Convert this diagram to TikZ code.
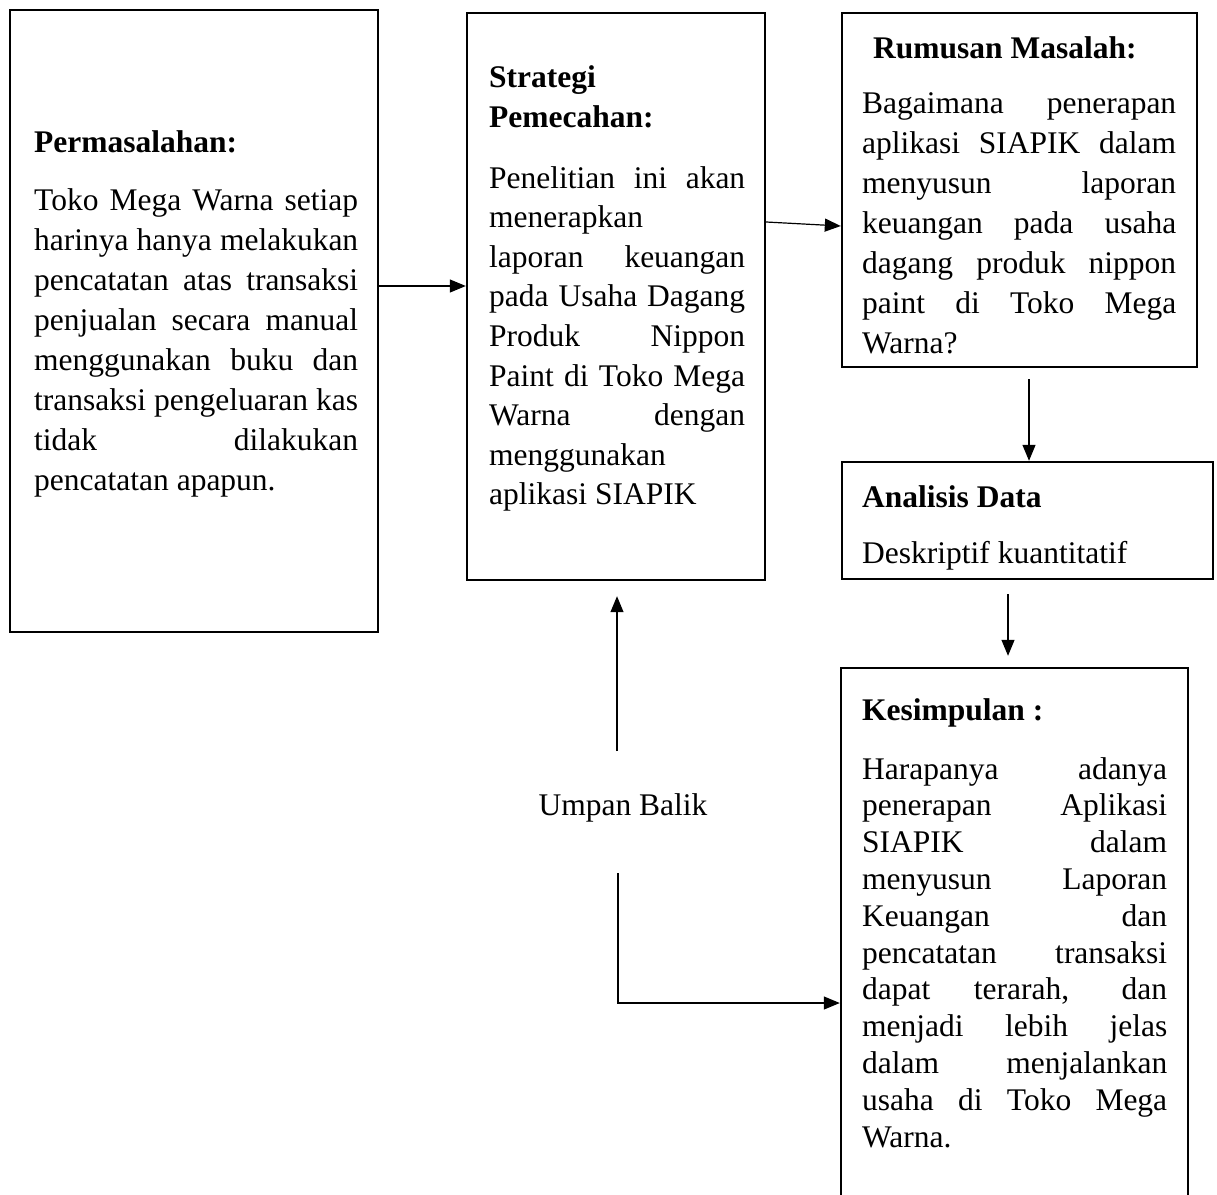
\documentclass[tikz,border=0pt]{standalone}
\usepackage{fontspec}
\setmainfont{Liberation Serif}
\usetikzlibrary{arrows.meta}
\newcommand\jline[1]{\makebox[\linewidth][s]{#1}\par}
\newcommand\lline[1]{\makebox[\linewidth][l]{#1}\par}
\begin{document}
\begin{tikzpicture}[x=1pt,y=-1pt,
  frame/.style={draw, line width=2.4pt, inner sep=0pt},
  txt/.style={anchor=base west, inner sep=0pt, font=\fontsize{31.5}{40}\selectfont},
  arr/.style={line width=1.2pt, -{Triangle[length=16pt,width=13pt]}}]
\useasboundingbox (0,0) rectangle (1217,1194);
% boxes
\node[frame, minimum width=368pt, minimum height=622pt] (b1) at (194,321) {};
\node[frame, minimum width=298pt, minimum height=567pt] (b2) at (616,296.5) {};
\node[frame, minimum width=355pt, minimum height=354pt] (b3) at (1019.5,190) {};
\node[frame, minimum width=371pt, minimum height=117pt] (b4) at (1027.5,520.5) {};
\node[frame, minimum width=347pt, minimum height=542pt] (b5) at (1014.5,939) {};
% box 1
\node[txt] (h1) at (34,152) {\bfseries Permasalahan:};
\node[txt] (t1) at (34,210) {\parbox[t]{324pt}{\fontsize{31.5}{40}\selectfont
\jline{Toko Mega Warna setiap}
\jline{harinya hanya melakukan}
\jline{pencatatan atas transaksi}
\jline{penjualan secara manual}
\jline{menggunakan buku dan}
\jline{transaksi pengeluaran kas}
\jline{tidak dilakukan}
\lline{pencatatan apapun.}}};
% box 2
\node[txt] (h2) at (489,87) {\parbox[t]{256pt}{\fontsize{31.5}{40}\selectfont\bfseries
\lline{Strategi}
\lline{Pemecahan:}}};
\node[txt] (t2) at (489,188) {\parbox[t]{256pt}{\fontsize{31.5}{39.6}\selectfont
\jline{Penelitian ini akan}
\lline{menerapkan}
\jline{laporan keuangan}
\jline{pada Usaha Dagang}
\jline{Produk Nippon}
\jline{Paint di Toko Mega}
\jline{Warna dengan}
\lline{menggunakan}
\lline{aplikasi SIAPIK}}};
% box 3
\node[txt] (h3) at (873,58) {\bfseries Rumusan Masalah:};
\node[txt] (t3) at (862,113) {\parbox[t]{314pt}{\fontsize{31.5}{40}\selectfont
\jline{Bagaimana penerapan}
\jline{aplikasi SIAPIK dalam}
\jline{menyusun laporan}
\jline{keuangan pada usaha}
\jline{dagang produk nippon}
\jline{paint di Toko Mega}
\lline{Warna?}}};
% box 4
\node[txt] (h4) at (862,507) {\bfseries Analisis Data};
\node[txt] (t4) at (862,563) {Deskriptif kuantitatif};
% box 5
\node[txt] (h5) at (862,720) {\bfseries Kesimpulan :};
\node[txt] (t5) at (862,779) {\parbox[t]{305pt}{\fontsize{31.5}{36.8}\selectfont
\jline{Harapanya adanya}
\jline{penerapan Aplikasi}
\jline{SIAPIK dalam}
\jline{menyusun Laporan}
\jline{Keuangan dan}
\jline{pencatatan transaksi}
\jline{dapat terarah, dan}
\jline{menjadi lebih jelas}
\jline{dalam menjalankan}
\jline{usaha di Toko Mega}
\lline{Warna.}}};
% feedback label
\node[txt, anchor=base] (u) at (623,815) {Umpan Balik};
% helper coordinates
\coordinate (y1) at (0,286);
\coordinate (y2a) at (0,222);
\coordinate (y2b) at (0,226);
\coordinate (x3) at (1029,0);
\coordinate (x4) at (1008,0);
\coordinate (fb1) at (617,751);
\coordinate (fb2) at (618,873);
\coordinate (y5) at (0,1003);
% connectors
\draw[arr] (b1.east |- y1) -- (b2.west |- y1);
\draw[arr] (b2.east |- y2a) -- (b3.west |- y2b);
\draw[arr] ([yshift=-11pt]b3.south -| x3) -- (b4.north -| x3);
\draw[arr] ([yshift=-14pt]b4.south -| x4) -- ([yshift=11pt]b5.north -| x4);
\draw[arr] (fb1) -- ([yshift=-15pt]b2.south -| fb1);
\draw[arr] (fb2) |- (b5.west |- y5);
\end{tikzpicture}
\end{document}
